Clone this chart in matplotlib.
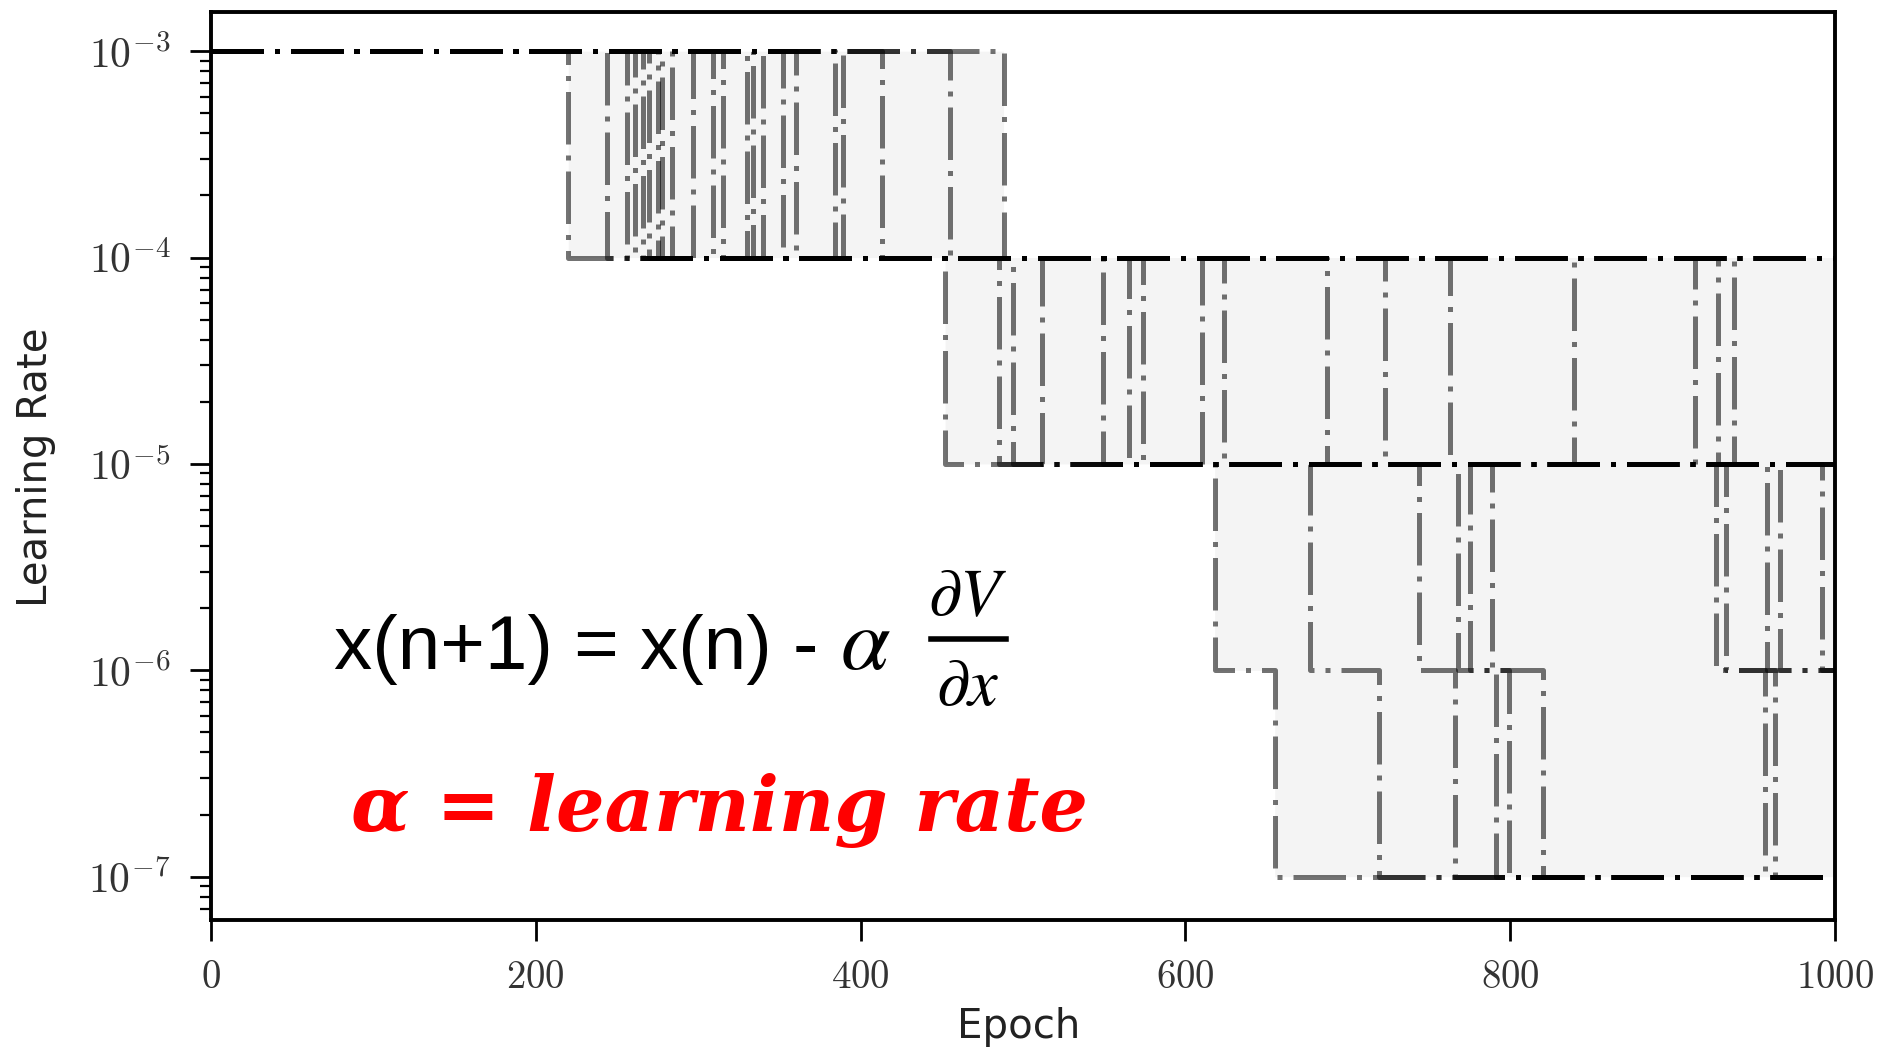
import numpy as np
import matplotlib
matplotlib.use("Agg")
import matplotlib.pyplot as plt
from matplotlib.ticker import FuncFormatter, LogLocator, NullFormatter

nan = np.nan

# epoch at which each run drops its learning rate by 10x (nan = never)
drop1 = [220, 244, 256, 261, 266, 270, 275, 278, 284, 297, 309,
         315, 330, 334, 340, 352, 360, 384, 389, 413, 455, 488]
drop2 = [452, 485, 494, 512, nan, 549, 565, nan, 574, 610, nan,
         624, 687, nan, 723, 763, nan, 839, 914, 928, 938, nan]
drop3 = [618, 677, 744, 768, nan, 775, 789, nan, 927, 933, nan,
         958, 966, nan, 992, nan, nan, nan, nan, nan, nan, nan]
drop4 = [655, 719, 766, 791, nan, 799, 820, nan, 957, 963, nan,
         nan, nan, nan, nan, nan, nan, nan, nan, nan, nan, nan]
lr0 = 1e-3
n_epochs = 1000

xticks = [0, 200, 400, 600, 800, 1000]
yticks = [1e-3, 1e-4, 1e-5, 1e-6, 1e-7]

W, H = 1883, 1050
fig = plt.figure(figsize=(W / 100, H / 100), dpi=100)
ax = fig.add_axes([211 / W, 1 - 920 / H, 1624 / W, 908 / H])

grid = np.arange(0, n_epochs + 1)
curves = []
for d in zip(drop1, drop2, drop3, drop4):
    drops = [v for v in d if not np.isnan(v)]
    xs = [0] + drops + [n_epochs]
    ys = [lr0 * 10.0 ** -k for k in range(len(drops) + 1)]
    ys = ys + [ys[-1]]
    ax.plot(xs, ys, drawstyle="steps-post", color="black", alpha=0.55,
            lw=3.6, linestyle=(0, (10.5, 2.2, 1.0, 2.2)), zorder=3)
    n_dropped = np.searchsorted(np.array(drops), grid, side="right")
    curves.append(lr0 * 10.0 ** -n_dropped)

curves = np.array(curves)
ax.fill_between(grid, curves.min(axis=0), curves.max(axis=0), step="post",
                color="#f4f4f4", lw=0, zorder=1)

ax.set_yscale("log")
ax.set_xlim(0, n_epochs)
ax.set_ylim(10 ** -7.21, 10 ** -2.81)
ax.set_xticks(xticks)
ax.set_yticks(yticks)
ax.yaxis.set_minor_locator(LogLocator(base=10, subs=np.arange(2, 10)))
ax.yaxis.set_minor_formatter(NullFormatter())
ax.yaxis.set_major_formatter(FuncFormatter(lambda v, p: r"$10^{%d}$" % round(np.log10(v))))
ax.xaxis.set_major_formatter(FuncFormatter(lambda v, p: r"$%d$" % v))
for lab in ax.get_xticklabels() + ax.get_yticklabels():
    lab.set_math_fontfamily("cm")
    lab.set_color("#333333")
ax.tick_params(which="major", direction="out", length=15, width=2.0,
               labelsize=28, pad=12)
ax.tick_params(axis="y", which="major", labelsize=30, pad=14)
ax.tick_params(which="minor", direction="out", length=8, width=1.6)
for s in ax.spines.values():
    s.set_linewidth(2.8)

fig.text(36 / W, 1 - 467 / H, "Learning Rate", rotation=90, ha="center",
         va="center", fontsize=29, color="#222222")
fig.text(1019 / W, 1 - 1027 / H, "Epoch", ha="center", va="center",
         fontsize=29, color="#222222")

# update rule written over the chart
fig.text(334 / W, 1 - 669 / H, "x(n+1) = x(n) -", ha="left", va="baseline",
         fontsize=55, family=["Liberation Sans", "DejaVu Sans"])
fig.text(840 / W, 1 - 669 / H, r"$\alpha$", ha="left", va="baseline",
         fontsize=64, math_fontfamily="stix")
fig.text(968 / W, 1 - 615 / H, r"$\partial V$", ha="center", va="baseline",
         fontsize=48, math_fontfamily="stix")
fig.text(968 / W, 1 - 705 / H, r"$\partial x$", ha="center", va="baseline",
         fontsize=48, math_fontfamily="stix")
fig.add_artist(plt.Line2D([931 / W, 1006 / W], [1 - 639 / H, 1 - 639 / H],
                          transform=fig.transFigure, color="black", lw=4))
fig.text(351 / W, 1 - 831 / H, "α = learning rate", ha="left", va="baseline",
         fontsize=55, color="red", family="DejaVu Serif",
         style="italic", weight="bold")

fig.savefig("out.png", dpi=100)
